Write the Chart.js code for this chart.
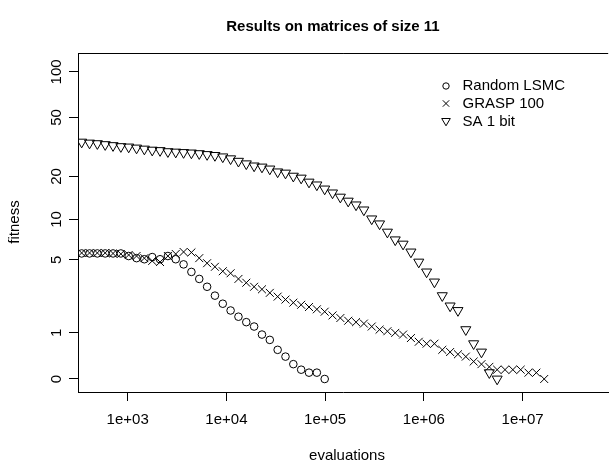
<!DOCTYPE html>
<html>
<head>
<meta charset="utf-8">
<style>
  html, body { margin: 0; padding: 0; background: #fff; }
</style>
</head>
<body>
<canvas id="myChart" width="615" height="465"></canvas>
<script src="https://cdn.jsdelivr.net/npm/chart.js@4.4.2/dist/chart.umd.min.js"></script>
<script>
// evaluations (x), shared by all three runs
const evaluations = [342, 411, 493, 592, 711, 853, 1024, 1230, 1476, 1773,
    2128, 2555, 3068, 3683, 4421, 5309, 6374, 7652, 9188, 11030,
    13243, 15900, 19088, 22918, 27515, 33037, 39664, 47622, 57175, 68645,
    82414, 98946, 118800, 142630, 171240, 205590, 246830, 296350, 355800, 427170,
    512860, 615740, 739270, 887570, 1065600, 1279400, 1536000, 1844200, 2214100, 2658300,
    3191500, 3831800, 4600500, 5523300, 6631400, 7961600, 9558800, 11476000, 13779000, 16543000];

// fitness values
const randomLsmc = [5.6, 5.6, 5.6, 5.6, 5.6, 5.6, 5.35, 5.15, 5.05, 5.25,
    5.05, 5.35, 5.05, 4.6, 4.0, 3.5, 3.0, 2.5, 2.1, 1.8,
    1.55, 1.35, 1.2, 0.95, 0.8, 0.55, 0.4, 0.25, 0.15, 0.1,
    0.1, 0];
const grasp100 = [5.65, 5.65, 5.65, 5.65, 5.6, 5.55, 5.45, 5.35, 5.15, 4.9,
    4.8, 5.35, 5.55, 5.75, 5.7, 5.15, 4.7, 4.4, 4.05, 3.9,
    3.5, 3.25, 3.0, 2.85, 2.65, 2.45, 2.3, 2.15, 2.05, 1.95,
    1.85, 1.75, 1.6, 1.5, 1.4, 1.35, 1.3, 1.2, 1.1, 1.05,
    1.0, 0.95, 0.85, 0.75, 0.7, 0.7, 0.55, 0.5, 0.45, 0.4,
    0.3, 0.25, 0.2, 0.15, 0.15, 0.15, 0.15, 0.1, 0.1, 0];
const sa1bit = [34.2, 33.7, 33.4, 32.9, 32.4, 31.9, 31.7, 31.2, 30.7, 30.2,
    30.0, 29.5, 29.3, 29.1, 28.9, 28.6, 28.2, 27.8, 27.2, 26.4,
    25.4, 24.4, 23.6, 23.2, 22.5, 21.5, 21.1, 20.1, 19.5, 18.3,
    17.5, 16.4, 15.4, 14.4, 13.5, 12.7, 11.7, 10.1, 9.3, 8.1,
    7.1, 6.6, 5.75, 4.8, 4.0, 3.3, 2.5, 2.0, 1.8, 1.1,
    0.7, 0.5, 0.1, 0];

const seriesNames = ['Random LSMC', 'GRASP 100', 'SA 1 bit'];

const xTicks = [1e3, 1e4, 1e5, 1e6, 1e7];
const xTickLabels = ['1e+03', '1e+04', '1e+05', '1e+06', '1e+07'];
const yTicks = [0, 1, 5, 10, 20, 50, 100];
const yTickLabels = ['0', '1', '5', '10', '20', '50', '100'];

const FONT = '"Liberation Sans", Arial, Helvetica, sans-serif';

// the y axis is log(fitness + 1)
function fy(v) {
    return Math.log10(v + 1);
}

function toPoints(values) {
    return values.map((v, i) => ({ x: evaluations[i], y: fy(v) }));
}

// little symbols for the legend
function drawSymbol(ctx, kind, x, y) {
    ctx.beginPath();
    if (kind === 0) {
        ctx.arc(x, y, 3.2, 0, Math.PI * 2);
    } else if (kind === 1) {
        ctx.moveTo(x - 3.2, y - 3.2); ctx.lineTo(x + 3.2, y + 3.2);
        ctx.moveTo(x + 3.2, y - 3.2); ctx.lineTo(x - 3.2, y + 3.2);
    } else {
        ctx.moveTo(x - 4.3, y - 3); ctx.lineTo(x + 4.3, y - 3); ctx.lineTo(x, y + 4.3); ctx.closePath();
    }
    ctx.stroke();
}

// R-like decorations: title, axis titles, rotated y labels, box top, legend
const decorations = {
    id: 'decorations',
    afterDraw(chart) {
        const { ctx, chartArea } = chart;
        const yScale = chart.scales.y;
        ctx.save();
        ctx.fillStyle = '#000';
        ctx.strokeStyle = '#000';
        ctx.lineWidth = 1;

        // top of the box
        ctx.beginPath();
        ctx.moveTo(chartArea.left, chartArea.top + 0.5);
        ctx.lineTo(chartArea.right, chartArea.top + 0.5);
        ctx.stroke();

        // title
        ctx.font = 'bold 15px ' + FONT;
        ctx.textAlign = 'center';
        ctx.textBaseline = 'middle';
        ctx.fillText('Results on matrices of size 11', 333, 27);

        // axis titles
        ctx.font = '15px ' + FONT;
        ctx.fillText('evaluations', 347, 456);
        ctx.save();
        ctx.translate(15, 222);
        ctx.rotate(-Math.PI / 2);
        ctx.fillText('fitness', 0, 0);
        ctx.restore();

        // y tick labels, parallel to the axis
        yTicks.forEach((t, i) => {
            const py = yScale.getPixelForValue(fy(t));
            ctx.save();
            ctx.translate(57, py);
            ctx.rotate(-Math.PI / 2);
            ctx.fillText(yTickLabels[i], 0, 0);
            ctx.restore();
        });

        // legend
        ctx.textAlign = 'left';
        const rows = [86, 103.5, 121.5];
        seriesNames.forEach((name, i) => {
            drawSymbol(ctx, i, 446, rows[i]);
            ctx.fillText(name, 462.5, rows[i]);
        });
        ctx.restore();
    }
};

const data = {
    datasets: [
        {
            label: seriesNames[0],
            data: toPoints(randomLsmc),
            pointStyle: 'circle',
            pointRadius: 3.8
        },
        {
            label: seriesNames[1],
            data: toPoints(grasp100),
            pointStyle: 'crossRot',
            pointRadius: 5.6
        },
        {
            label: seriesNames[2],
            data: toPoints(sa1bit),
            pointStyle: 'triangle',
            pointRotation: 180,
            pointRadius: 5.8
        }
    ]
};
data.datasets.forEach(ds => {
    ds.showLine = false;
    ds.borderColor = '#000';
    ds.backgroundColor = 'rgba(0,0,0,0)';
    ds.pointBorderWidth = 1;
    ds.pointHoverRadius = ds.pointRadius;
});

const config = {
    type: 'scatter',
    data,
    options: {
        responsive: false,
        animation: false,
        devicePixelRatio: 1,
        layout: { padding: { top: 53, left: 0, right: 0, bottom: 0 } },
        plugins: {
            legend: { display: false },
            title: { display: false },
            tooltip: { enabled: false }
        },
        scales: {
            x: {
                type: 'logarithmic',
                min: 314,
                max: 7.36e7,
                afterBuildTicks: (scale) => {
                    scale.ticks = xTicks.map(v => ({ value: v }));
                },
                afterFit: (scale) => { scale.height = 73; },
                ticks: {
                    autoSkip: false,
                    maxRotation: 0,
                    color: '#000',
                    padding: 10,
                    font: { family: FONT, size: 15 },
                    callback: (value, index) => xTickLabels[index]
                },
                grid: { drawOnChartArea: false, drawTicks: true, tickLength: 9, color: '#000' },
                border: { display: true, color: '#000', width: 1 }
            },
            y: {
                type: 'linear',
                min: -0.0849,
                max: 2.128,
                afterBuildTicks: (scale) => {
                    scale.ticks = yTicks.map(t => ({ value: fy(t) }));
                },
                afterFit: (scale) => { scale.width = 78; },
                ticks: { display: false },
                grid: { drawOnChartArea: false, drawTicks: true, tickLength: 9, color: '#000' },
                border: { display: true, color: '#000', width: 1 }
            }
        }
    },
    plugins: [decorations]
};

let myChart = new Chart(document.getElementById('myChart'), config);
</script>
</body>
</html>
